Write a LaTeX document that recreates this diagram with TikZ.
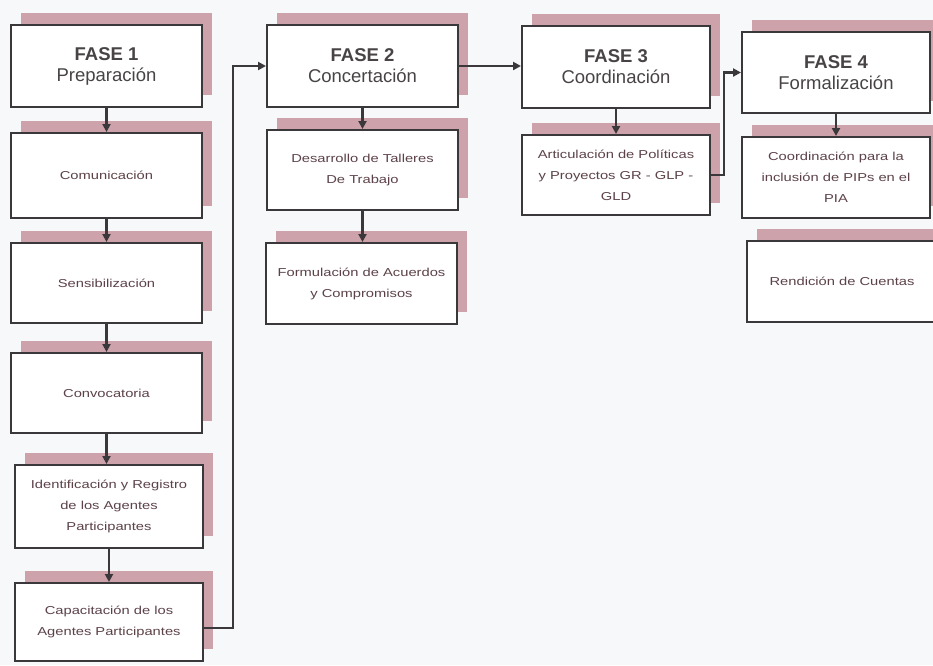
\documentclass[tikz,border=0pt]{standalone}
\usepackage{fontspec}
\setmainfont{Liberation Sans}
\newfontfamily\smallf[FakeStretch=1.28]{Liberation Sans}
\usetikzlibrary{shadows,arrows.meta}
\definecolor{shpink}{RGB}{206,162,170}
\definecolor{bord}{RGB}{58,56,58}
\definecolor{ftxt}{RGB}{72,68,70}
\definecolor{stxt}{RGB}{92,66,72}
\definecolor{bg}{RGB}{247,248,250}
\begin{document}
\begin{tikzpicture}[x=1pt,y=-1pt,
  box/.style={draw=bord, line width=2pt, fill=white, align=center, inner sep=2pt,
    general shadow={fill=shpink, shadow xshift=10pt, shadow yshift=12pt}},
  fase/.style={box, text=ftxt, font=\fontsize{18.5}{21}\selectfont},
  sub/.style={box, text=stxt, font=\smallf\fontsize{11.5}{21}\selectfont},
  arr/.style={draw=bord, line width=2.2pt, -{Triangle[length=8pt,width=8pt]}}]
\fill[bg] (0,0) rectangle (933,665);
\useasboundingbox (0,0) rectangle (933,665);
% column 1
\node[fase, minimum width=191pt, minimum height=82pt] (f1) at (106.5,66) {\textbf{FASE 1}\\Preparación};
\node[sub, minimum width=191pt, minimum height=85pt] (com) at (106.5,175.5) {Comunicación};
\node[sub, minimum width=191pt, minimum height=80pt] (sen) at (106.5,283) {Sensibilización};
\node[sub, minimum width=191pt, minimum height=80pt] (conv) at (106.5,393) {Convocatoria};
\node[sub, minimum width=188pt, minimum height=83pt] (iden) at (109,506.5) {Identificación y Registro\\de los Agentes\\Participantes};
\node[sub, minimum width=188pt, minimum height=78pt] (cap) at (109,622) {Capacitación de los\\Agentes Participantes};
% column 2
\node[fase, minimum width=191pt, minimum height=82pt] (f2) at (362.5,66) {\textbf{FASE 2}\\Concertación};
\node[sub, minimum width=191pt, minimum height=80pt] (des) at (362.5,170) {Desarrollo de Talleres\\De Trabajo};
\node[sub, minimum width=191pt, minimum height=81pt] (form) at (361.5,283.5) {Formulación de Acuerdos\\y Compromisos};
% column 3
\node[fase, minimum width=188pt, minimum height=82pt] (f3) at (616,67) {\textbf{FASE 3}\\Coordinación};
\node[sub, minimum width=188pt, minimum height=80pt] (art) at (616,175) {Articulación de Políticas\\y Proyectos GR - GLP -\\GLD};
% column 4
\node[fase, minimum width=188pt, minimum height=81pt] (f4) at (836,72.5) {\textbf{FASE 4}\\Formalización};
\node[sub, minimum width=188pt, minimum height=81pt] (coord) at (836,177.5) {Coordinación para la\\inclusión de PIPs en el\\PIA};
\node[sub, minimum width=190pt, minimum height=81pt] (rend) at (842,281.5) {Rendición de Cuentas};
% connectors
\draw[arr] (f1) -- (com);
\draw[arr] (com) -- (sen);
\draw[arr] (sen) -- (conv);
\draw[arr] (conv.south) -- (iden.north -| conv.south);
\draw[arr] (iden.south) -- (cap.north);
\draw[arr] ([yshift=-6pt]cap.east) -- ++(29,0) |- (f2.west);
\draw[arr] (f2) -- (des);
\draw[arr] (des.south) -- (form.north -| des.south);
\draw[arr] (f2.east) -- (f2.east -| f3.west);
\draw[arr] (f3) -- (art);
\draw[arr] (art.east) -- ++(13,0) |- (f4.west);
\draw[arr] (f4) -- (coord);
\end{tikzpicture}
\end{document}
